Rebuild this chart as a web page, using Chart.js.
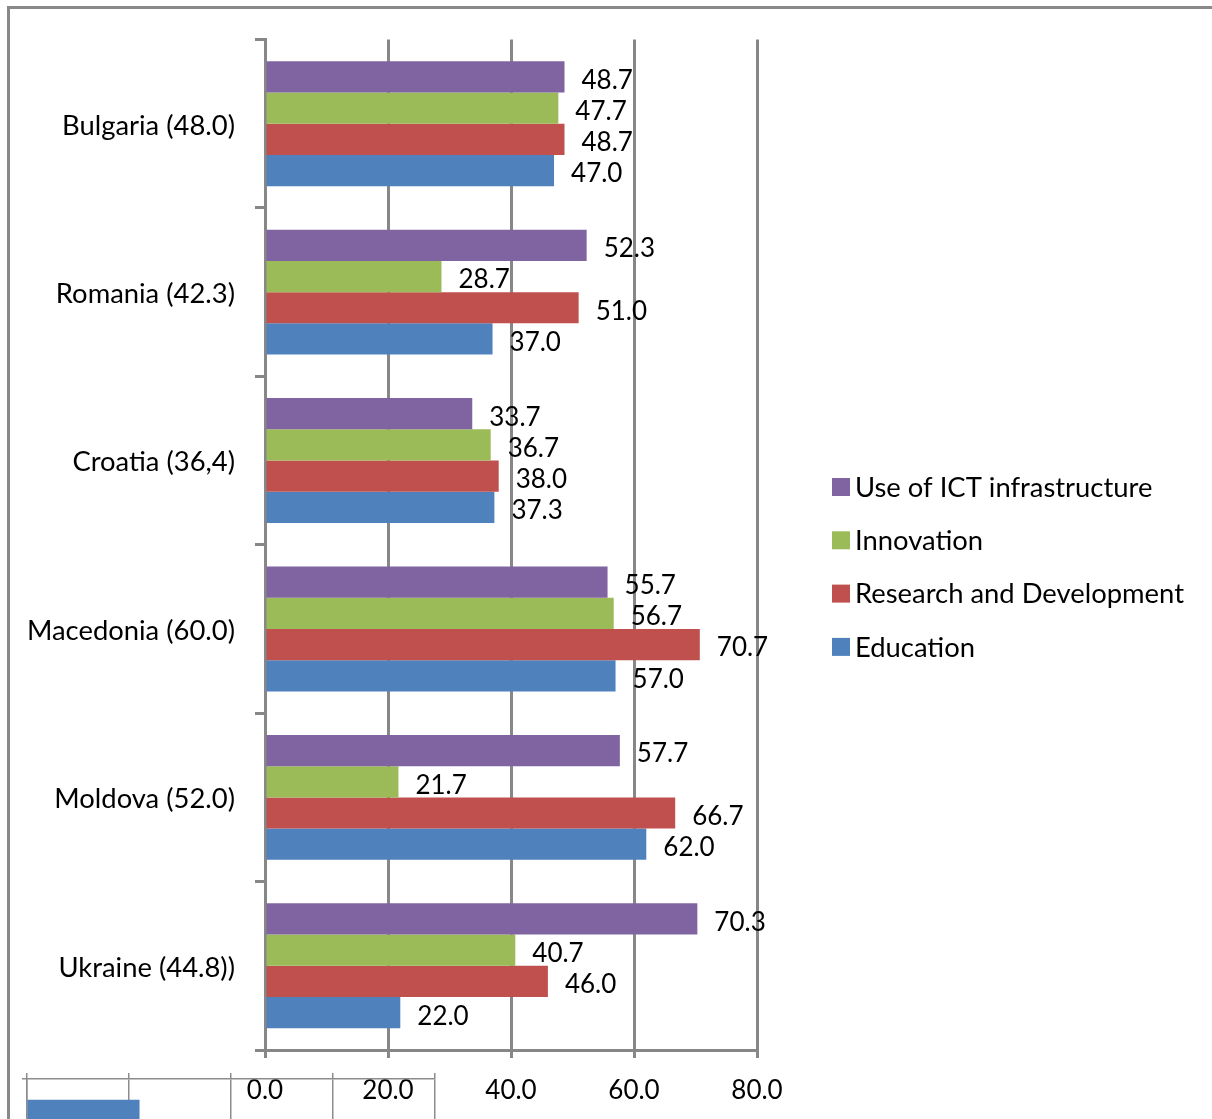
<!DOCTYPE html>
<html>
<head>
    <title>ICT development by country</title>
    <script src="https://cdn.jsdelivr.net/npm/chart.js"></script>
    <style>
        body { margin: 0; overflow: hidden; background: #fff; }
        #frame { position: absolute; left: 7px; top: 6px; width: 1400px; height: 1400px; border: 3px solid #898989; }
        #main { position: absolute; left: 0; top: 0; width: 1212px; height: 1119px; }
        #inset { position: absolute; left: 20px; top: 1071px; width: 418px; height: 100px; }
    </style>
</head>
<body>
    <div id="frame"></div>
    <div id="main"><canvas id="myChart"></canvas></div>
    <div id="inset"><canvas id="insetChart"></canvas></div>

    <script>
        // categories, top to bottom
        const countries = ['Bulgaria (48.0)', 'Romania (42.3)', 'Croatia (36,4)', 'Macedonia (60.0)', 'Moldova (52.0)', 'Ukraine (44.8))'];

        // series values
        const ictUse     = [48.7, 52.3, 33.7, 55.7, 57.7, 70.3];
        const innovation = [47.7, 28.7, 36.7, 56.7, 21.7, 40.7];
        const research   = [48.7, 51.0, 38.0, 70.7, 66.7, 46.0];
        const education  = [47.0, 37.0, 37.3, 57.0, 62.0, 22.0];

        // x axis tick values
        const xTickValues = [0, 20, 40, 60, 80];

        // leftover piece of a second chart at the bottom left
        const insetLabels = [''];
        const insetValues = [1.1];

        const gridGray = '#878787';
        const fontFamily = 'Lato, "Liberation Sans", sans-serif';
        const numberSize = 26;
        const textSize = 27.4;

        // numbers at the end of each bar
        const valueLabels = {
            id: 'valueLabels',
            afterDatasetsDraw(chart) {
                const ctx = chart.ctx;
                ctx.save();
                ctx.font = numberSize + 'px ' + fontFamily;
                ctx.fillStyle = '#000';
                ctx.textBaseline = 'middle';
                ctx.textAlign = 'left';
                chart.data.datasets.forEach((ds, i) => {
                    chart.getDatasetMeta(i).data.forEach((bar, j) => {
                        ctx.fillText(ds.data[j].toFixed(1), bar.x + 17, bar.y + 3.5);
                    });
                });
                ctx.restore();
            }
        };

        // legend on the right, drawn by hand so it sits where the original does
        const sideLegend = {
            id: 'sideLegend',
            afterDraw(chart) {
                const ctx = chart.ctx;
                ctx.save();
                ctx.font = textSize + 'px ' + fontFamily;
                ctx.textBaseline = 'middle';
                chart.data.datasets.forEach((ds, i) => {
                    const y = 487 + i * 53.3;
                    ctx.fillStyle = ds.backgroundColor;
                    ctx.fillRect(832, y - 9, 18, 18);
                    ctx.fillStyle = '#000';
                    ctx.fillText(ds.label, 855, y + 1);
                });
                ctx.restore();
            }
        };

        Chart.defaults.font.family = fontFamily;
        Chart.defaults.color = '#000';

        const ctx = document.getElementById('myChart').getContext('2d');
        new Chart(ctx, {
            type: 'bar',
            data: {
                labels: countries,
                datasets: [
                    { label: 'Use of ICT infrastructure', data: ictUse, backgroundColor: '#8064A2' },
                    { label: 'Innovation', data: innovation, backgroundColor: '#9BBB59' },
                    { label: 'Research and Development', data: research, backgroundColor: '#C0504D' },
                    { label: 'Education', data: education, backgroundColor: '#4F81BD' }
                ]
            },
            options: {
                indexAxis: 'y',
                responsive: true,
                maintainAspectRatio: false,
                animation: false,
                categoryPercentage: 0.742,
                barPercentage: 1.0,
                layout: { padding: { top: 39.5, right: 455, left: 0, bottom: 0 } },
                plugins: { legend: { display: false }, tooltip: { enabled: false } },
                scales: {
                    x: {
                        min: xTickValues[0],
                        max: xTickValues[xTickValues.length - 1],
                        ticks: {
                            stepSize: xTickValues[1] - xTickValues[0],
                            callback: v => v.toFixed(1),
                            font: { size: numberSize },
                            padding: 17
                        },
                        grid: { color: gridGray, lineWidth: 3, tickLength: 8 },
                        border: { color: gridGray, width: 3 },
                        afterFit: s => { s.height = 69; }
                    },
                    y: {
                        ticks: { font: { size: textSize }, padding: 20, labelOffset: 2 },
                        grid: { offset: true, drawOnChartArea: false, tickLength: 10, color: gridGray, lineWidth: 3 },
                        border: { color: gridGray, width: 3 },
                        afterFit: s => { s.width = 265; }
                    }
                }
            },
            plugins: [valueLabels, sideLegend]
        });

        new Chart(document.getElementById('insetChart'), {
            type: 'bar',
            data: {
                labels: insetLabels,
                datasets: [{ data: insetValues, backgroundColor: '#4F81BD', barThickness: 50 }]
            },
            options: {
                indexAxis: 'y',
                responsive: true,
                maintainAspectRatio: false,
                animation: false,
                layout: { padding: { right: 3 } },
                plugins: { legend: { display: false }, tooltip: { enabled: false } },
                scales: {
                    x: {
                        position: 'top',
                        min: 0,
                        max: 4,
                        ticks: { display: false, stepSize: 1 },
                        grid: { color: '#8c8c8c', lineWidth: 1.5, tickLength: 6 },
                        border: { color: '#8c8c8c', width: 1.5 },
                        afterFit: s => { s.height = 8; }
                    },
                    y: {
                        ticks: { display: false },
                        grid: { offset: true, drawOnChartArea: false, tickLength: 5, color: '#8c8c8c', lineWidth: 1.5 },
                        border: { color: '#8c8c8c', width: 1.5 },
                        afterFit: s => { s.width = 7; }
                    }
                }
            }
        });
    </script>
</body>
</html>
